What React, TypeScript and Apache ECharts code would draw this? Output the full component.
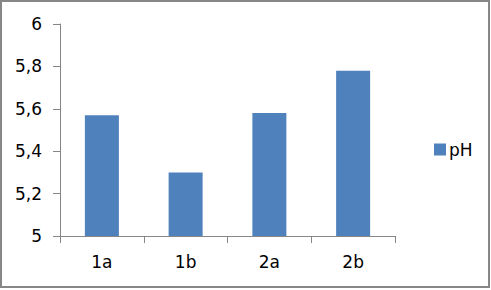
import React, { useEffect, useRef } from "react";
import * as echarts from "echarts";

const categories = ["1a", "1b", "2a", "2b"];
const phValues = [5.57, 5.3, 5.58, 5.78];
const seriesName = "pH";

const FONT = "DejaVu Sans";

export default function App() {
  const ref = useRef<HTMLDivElement>(null);
  useEffect(() => {
    if (!ref.current) return;
    const chart = echarts.init(ref.current, null, { renderer: "svg" });
    chart.setOption({
      animation: false,
      backgroundColor: "#ffffff",
      textStyle: { fontFamily: FONT },
      grid: { left: 60, top: 24, width: 335, height: 212 },
      legend: {
        data: [{ name: seriesName, icon: "rect" }],
        left: 429,
        top: 136,
        itemWidth: 12,
        itemHeight: 12,
        itemGap: 4,
        textStyle: { fontFamily: FONT, fontSize: 17, color: "#000", padding: [0, 0, 0, -2] },
      },
      xAxis: {
        type: "category",
        data: categories,
        axisLine: { lineStyle: { color: "#868686", width: 1 } },
        axisTick: { show: true, length: 7, alignWithLabel: false, lineStyle: { color: "#868686" } },
        axisLabel: { color: "#000", fontFamily: FONT, fontSize: 17, margin: 17 },
        splitLine: { show: false },
      },
      yAxis: {
        type: "value",
        min: 5,
        max: 6,
        interval: 0.2,
        axisLine: { show: true, lineStyle: { color: "#868686", width: 1 } },
        axisTick: { show: true, length: 7, lineStyle: { color: "#868686" } },
        axisLabel: {
          color: "#000",
          fontFamily: FONT,
          fontSize: 17,
          margin: 18,
          formatter: (v: number) => String(Math.round(v * 10) / 10).replace(".", ","),
        },
        splitLine: { show: false },
      },
      series: [
        {
          name: seriesName,
          type: "bar",
          data: phValues,
          barWidth: 34,
          itemStyle: { color: "#4F81BD" },
        },
      ],
      graphic: [
        {
          type: "rect",
          shape: { x: 1, y: 1, width: 488, height: 286 },
          style: { fill: "none", stroke: "#878787", lineWidth: 2 },
          silent: true,
        },
      ],
    });
    return () => chart.dispose();
  }, []);
  return (
    <div
      ref={ref}
      style={{ position: "fixed", left: 0, top: 0, width: 491, height: 290 }}
    />
  );
}
